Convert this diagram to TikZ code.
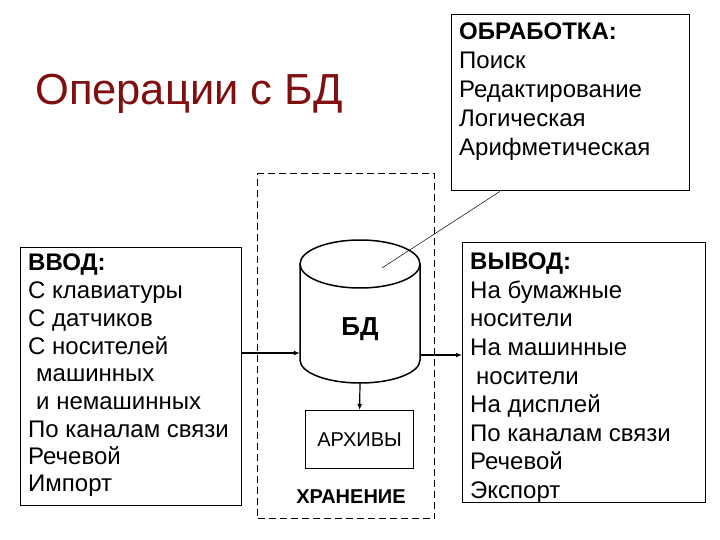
\documentclass[tikz,border=0pt]{standalone}
\usepackage{fontspec}
\setmainfont{Liberation Sans}
\usetikzlibrary{arrows.meta}
\definecolor{titlered}{RGB}{128,16,16}
\tikzset{
  frame/.style={draw, line width=1.4pt},
  txt/.style={anchor=base west, inner sep=0pt, font=\fontsize{24}{28}\selectfont},
  btxt/.style={txt, font=\fontsize{24}{28}\selectfont\bfseries},
  conn/.style={line width=1.2pt, -{Latex[length=6pt,width=5pt]}},
}
\begin{document}
\begin{tikzpicture}[x=1pt,y=-1pt]
\useasboundingbox (0,0) rectangle (720,540);
% title
\node[anchor=base west, inner sep=0pt, text=titlered, font=\fontsize{43.5}{48}\selectfont] (title) at (35,105) {Операции с БД};
% boxes
\node[frame, minimum width=238pt, minimum height=176pt, anchor=north west] (proc) at (451,14) {};
\node[frame, minimum width=221pt, minimum height=258pt, anchor=north west] (inp) at (20,247) {};
\node[frame, minimum width=243pt, minimum height=260pt, anchor=north west] (outp) at (462,242) {};
\node[draw, dashed, line width=1.4pt, dash pattern=on 7pt off 4pt, minimum width=177pt, minimum height=345pt, anchor=north west] (store) at (257,173) {};
\node[draw, line width=1.2pt, minimum width=108pt, minimum height=58pt, anchor=north west] (arch) at (305,410) {};
\node[font=\fontsize{20}{22}\selectfont] at (arch.center) {АРХИВЫ};
\node[anchor=base, inner sep=0pt, font=\fontsize{20}{22}\selectfont\bfseries] (storelbl) at (351,503) {ХРАНЕНИЕ};
% cylinder
\node[minimum width=120pt, minimum height=143pt, inner sep=0pt] (db) at (360,312) {};
\draw[line width=1.5pt, fill=white] (300,264) -- (300,360) arc[start angle=180, end angle=0, x radius=60, y radius=23] -- (420,264);
\draw[line width=1.5pt] (360,264) ellipse[x radius=60, y radius=24];
\node[anchor=base, inner sep=0pt, font=\fontsize{26}{28}\selectfont\bfseries] (dblbl) at (360,335) {БД};
% texts
\node[btxt] at (28,270) {ВВОД:};
\node[txt] at (28,298) {С клавиатуры};
\node[txt] at (28,326) {С датчиков};
\node[txt] at (28,354) {С носителей};
\node[txt] at (36,381) {машинных};
\node[txt] at (36,409) {и немашинных};
\node[txt] at (28,437) {По каналам связи};
\node[txt] at (28,464) {Речевой};
\node[txt] at (28,491) {Импорт};
\node[btxt] at (470,269) {ВЫВОД:};
\node[txt] at (470,298) {На бумажные};
\node[txt] at (470,326) {носители};
\node[txt] at (470,355) {На машинные};
\node[txt] at (476,384) {носители};
\node[txt] at (470,412) {На дисплей};
\node[txt] at (470,441) {По каналам связи};
\node[txt] at (470,469) {Речевой};
\node[txt] at (470,498) {Экспорт};
\node[btxt] at (459,40) {ОБРАБОТКА:};
\node[txt] at (459,69) {Поиск};
\node[txt] at (459,98) {Редактирование};
\node[txt] at (459,127) {Логическая};
\node[txt] at (459,156) {Арифметическая};
% connectors
\coordinate (dbtop) at (382,268);
\draw[line width=0.5pt] (proc.south west) ++(49,0) -- (dbtop);
\draw[conn] (inp.east |- 0,353) -- (db.west |- 0,353);
\draw[conn] (db.east |- 0,355) -- (outp.west |- 0,355);
\draw[conn] (360,383) -- (arch.north);
\end{tikzpicture}
\end{document}
